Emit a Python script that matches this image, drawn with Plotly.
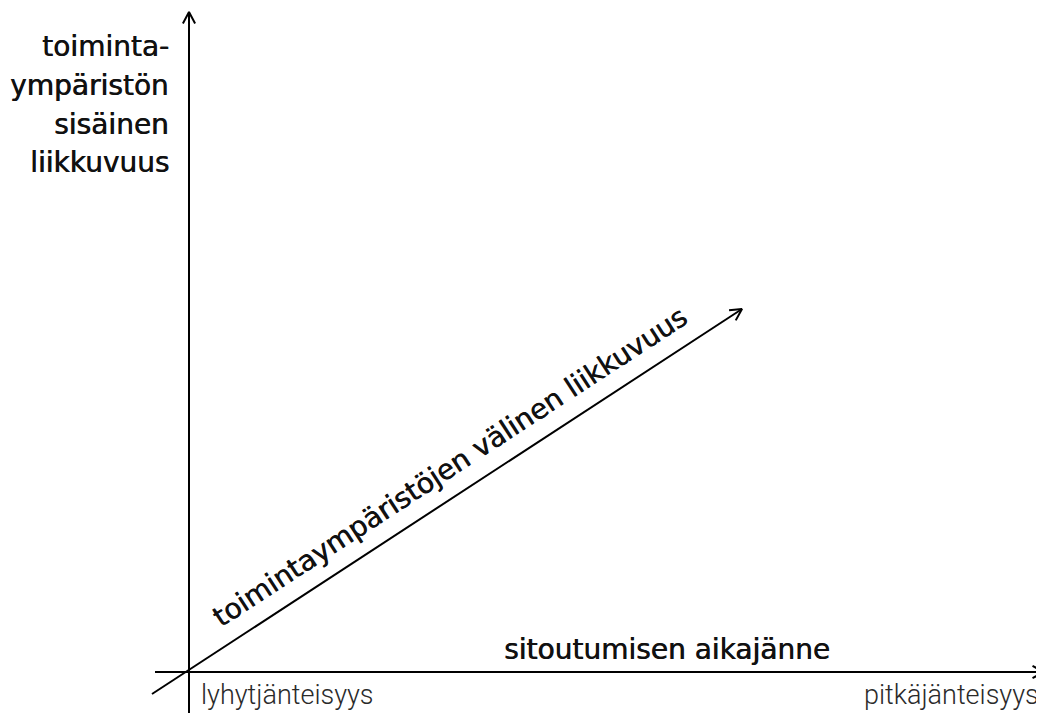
import math
import plotly.graph_objects as go

# Diagram elements (canvas coordinates in px, y downward)
axis_x_start = [155, 672]
axis_x_end = [1044, 672]
axis_y_start = [189, 713]
axis_y_end = [189, 12]
diag_start = [152, 694]
diag_end = [742, 309]

y_label_lines = ["toiminta-", "ympäristön", "sisäinen", "liikkuvuus"]
y_label_rows = [46, 85, 124, 162]
x_label = "sitoutumisen aikajänne"
diag_label = "toimintaympäristöjen välinen liikkuvuus"
left_tick = "lyhytjänteisyys"
right_tick = "pitkäjänteisyys"

W, H = 1044, 713
OFF = 8  # page body margin
FONT = "DejaVu Sans"
LIGHT = "Roboto"
THICK = "0.6px 0px 0px #111"

fig = go.Figure()

def line(p0, p1):
    fig.add_trace(go.Scatter(x=[p0[0], p1[0]], y=[p0[1], p1[1]], mode="lines",
                             line=dict(color="black", width=2), hoverinfo="skip",
                             showlegend=False))

def head(p0, p1, length=13, ang=28):
    dx, dy = p1[0] - p0[0], p1[1] - p0[1]
    a = math.atan2(dy, dx)
    pts_x, pts_y = [], []
    for s in (1, -1):
        b = a + math.pi + s * math.radians(ang)
        pts_x.append(p1[0] + length * math.cos(b))
        pts_y.append(p1[1] + length * math.sin(b))
    fig.add_trace(go.Scatter(x=[pts_x[0], p1[0], pts_x[1]], y=[pts_y[0], p1[1], pts_y[1]],
                             mode="lines", line=dict(color="black", width=2),
                             hoverinfo="skip", showlegend=False))

for s, e in [(axis_x_start, axis_x_end), (axis_y_start, axis_y_end), (diag_start, diag_end)]:
    line(s, e)
    head(s, e)

angle = math.degrees(math.atan2(diag_start[1] - diag_end[1], diag_end[0] - diag_start[0]))

for txt, yy in zip(y_label_lines, y_label_rows):
    fig.add_annotation(x=171, y=yy, text=txt, showarrow=False,
                       xanchor="right", yanchor="middle", align="right",
                       font=dict(family=FONT, size=28, color="#111", shadow=THICK))
fig.add_annotation(x=667, y=649, text=x_label, showarrow=False,
                   xanchor="center", yanchor="middle",
                   font=dict(family=FONT, size=28, color="#111", shadow=THICK))
fig.add_annotation(x=449, y=467, text=diag_label, showarrow=False, textangle=-angle,
                   xanchor="center", yanchor="middle",
                   font=dict(family=FONT, size=28, color="#111", shadow=THICK))
fig.add_annotation(x=199, y=695, text=left_tick, showarrow=False,
                   xanchor="left", yanchor="middle",
                   font=dict(family=LIGHT, size=27, color="#2a2a2a", weight=300))
fig.add_annotation(x=1041, y=695, text=right_tick, showarrow=False,
                   xanchor="right", yanchor="middle",
                   font=dict(family=LIGHT, size=27, color="#2a2a2a", weight=300))

fig.update_layout(width=W - OFF, height=H - OFF, margin=dict(l=0, r=0, t=0, b=0),
                  plot_bgcolor="white", paper_bgcolor="white",
                  xaxis=dict(range=[OFF, W], visible=False, fixedrange=True),
                  yaxis=dict(range=[H, OFF], visible=False, fixedrange=True))

fig.write_html("out.html")
